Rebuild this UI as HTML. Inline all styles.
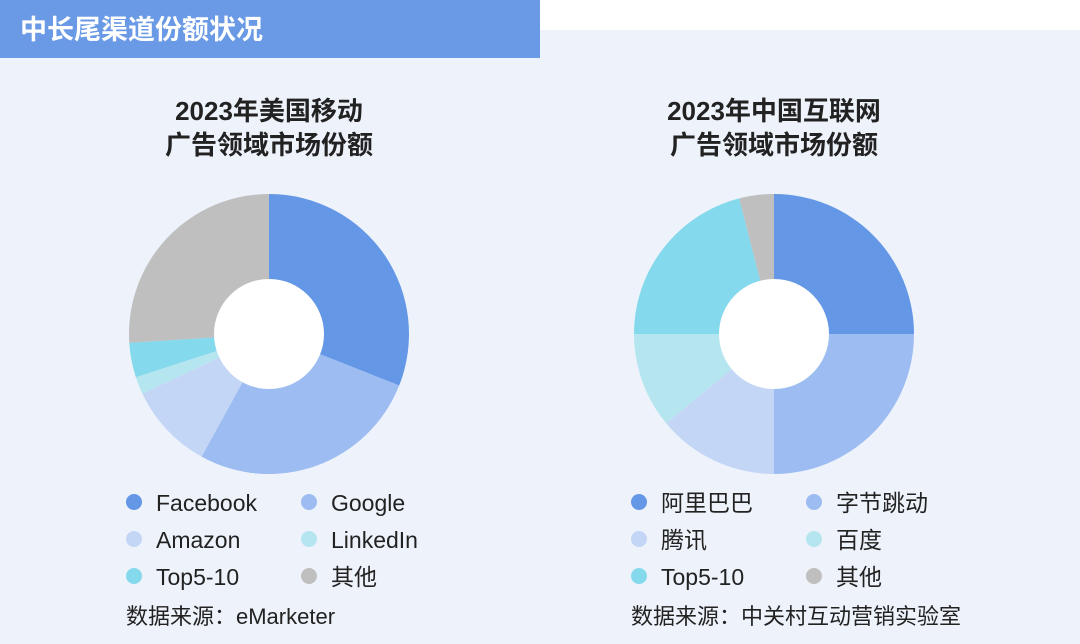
<!DOCTYPE html>
<html><head><meta charset="utf-8">
<style>
body{margin:0;width:1080px;height:644px;background:#fff;font-family:"Liberation Sans","Noto Sans CJK SC",sans-serif;overflow:hidden;position:relative}
#bg{position:absolute;left:0;top:30px;width:1080px;height:614px;background:#eef3fb}
#hdr{position:absolute;left:0;top:0;width:540px;height:58px;background:#6a99e6;color:#fff;font-size:27px;font-weight:bold;line-height:60px;padding-left:20px;box-sizing:border-box}
svg{position:absolute;left:0;top:0}
</style></head><body>
<div id="bg"></div>
<div id="hdr">中长尾渠道份额状况</div>
<svg id="c" width="1080" height="644"></svg>
<script>
const colors=["#6497e6","#9dbdf2","#c3d6f5","#b5e6f0","#84d9ec","#bfbfbf"];
const usLabels=["Facebook","Google","Amazon","LinkedIn","Top5-10","其他"];
const usValues=[31,27,10,2,4,26];
const cnLabels=["阿里巴巴","字节跳动","腾讯","百度","Top5-10","其他"];
const cnValues=[25,25,14,11,21,4];
const charts=[
 {cx:269,title:["2023年美国移动","广告领域市场份额"],labels:usLabels,values:usValues,src:"数据来源：eMarketer",name:"us"},
 {cx:774,title:["2023年中国互联网","广告领域市场份额"],labels:cnLabels,values:cnValues,src:"数据来源：中关村互动营销实验室",name:"cn"}
];
const svg=document.getElementById('c');const NS="http://www.w3.org/2000/svg";
function mk(t,a){const e=document.createElementNS(NS,t);for(const k in a)e.setAttribute(k,a[k]);svg.appendChild(e);return e;}
const cy=334,R=140,r=55;
function pt(a,rad,cx){return [cx+rad*Math.sin(a),cy-rad*Math.cos(a)];}
charts.forEach(ch=>{
 ch.title.forEach((t,i)=>{const e=mk('text',{x:ch.cx,y:120+i*34,'text-anchor':'middle','font-size':26,'font-weight':'bold',fill:'#222'});e.textContent=t;
  
  });
 const tot=ch.values.reduce((a,b)=>a+b,0);let a0=0;
 ch.values.forEach((v,i)=>{const a1=a0+v/tot*2*Math.PI;const [x0,y0]=pt(a0,R,ch.cx),[x1,y1]=pt(a1,R,ch.cx);const lg=a1-a0>Math.PI?1:0;
  const p=mk('path',{d:`M${ch.cx},${cy}L${x0},${y0}A${R},${R} 0 ${lg} 1 ${x1},${y1}Z`,fill:colors[i]});
  
  
  a0=a1;});
 const h=mk('circle',{cx:ch.cx,cy:cy,r:r,fill:'#fff'});
 
 
 ch.labels.forEach((l,i)=>{const col=i%2,row=Math.floor(i/2);const x=ch.cx-135+col*175,y=502+row*37;
  const d=mk('circle',{cx:x,cy:y,r:8,fill:colors[i]});
  
  
  const t=mk('text',{x:x+22,y:y+9,'font-size':23,fill:'#222'});t.textContent=l;
  
  });
 const s=mk('text',{x:ch.cx-143,y:624,'font-size':22,fill:'#222'});s.textContent=ch.src;
 
 
});
</script>
</body></html>
